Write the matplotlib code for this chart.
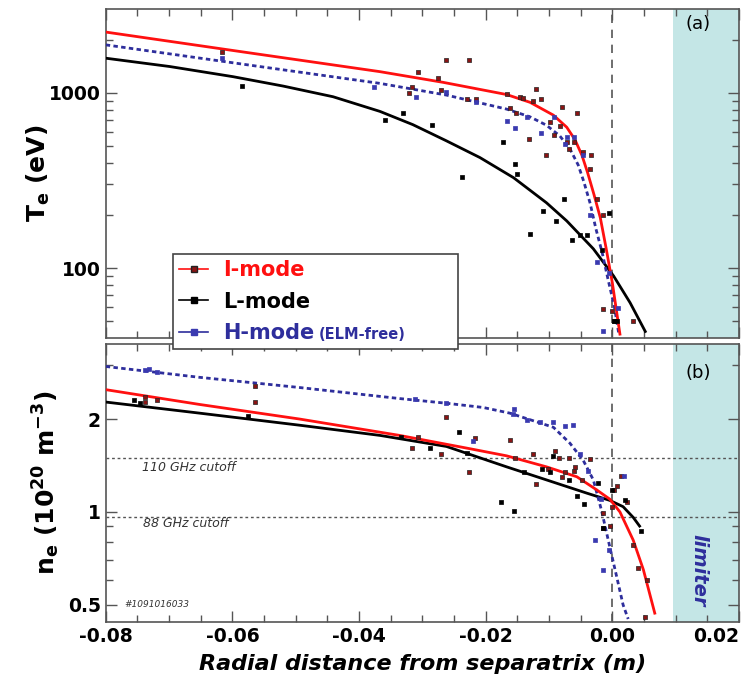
import matplotlib
matplotlib.use("Agg")
import matplotlib.pyplot as plt
from matplotlib.lines import Line2D
from matplotlib.ticker import FixedLocator, MultipleLocator, NullFormatter, FixedFormatter

plt.rcParams["font.family"] = "DejaVu Sans"
plt.rcParams["mathtext.fontset"] = "dejavusans"
plt.rcParams["mathtext.default"] = "bf"

# ---- Te fits (panel a) ----
i_te_fit_x = [-0.0800, -0.0584, -0.0367, -0.0267, -0.0167, -0.0130, -0.0093, -0.0072, -0.0059,
              -0.0048, -0.0039, -0.0029, -0.0019, -0.0010, 0.0000, 0.0012]
i_te_fit = [2218, 1710, 1319, 1146, 977, 882, 745, 636, 540,
            440, 350, 263, 194, 131, 82.5, 42.1]

h_te_fit_x = [-0.0800, -0.0584, -0.0367, -0.0262, -0.0167, -0.0130, -0.0104, -0.0083, -0.0067,
              -0.0054, -0.0045, -0.0035, -0.0026, -0.0016, -0.0007, 0.0003, 0.0010]
h_te_fit = [1875, 1456, 1131, 970, 807, 729, 653, 568, 479,
            388, 311, 234, 168, 122.5, 87, 60.9, 42.7]

l_te_fit_x = [-0.0800, -0.0699, -0.0599, -0.0520, -0.0441, -0.0367, -0.0315, -0.0262, -0.0209,
              -0.0156, -0.0104, -0.0072, -0.0030, 0.0002, 0.0028, 0.0052]
l_te_fit = [1574, 1411, 1235, 1092, 949, 783, 658, 532, 427,
            328, 236, 186, 129, 90.3, 63.6, 43.6]

# ---- Te measurements ----
i_te_x = [-0.0617, -0.0307, -0.0321, -0.0317, -0.0275, -0.0271, -0.0262, -0.0226, -0.0229,
          -0.0216, -0.0167, -0.0162, -0.0146, -0.0141, -0.0125, -0.0121, -0.0113, -0.0152,
          -0.0080, -0.0056, -0.0098, -0.0083, -0.0131, -0.0092, -0.0072, -0.0069, -0.0060,
          -0.0104, -0.0046, -0.0033, -0.0036, -0.0025, -0.0014, -0.0015, -0.0001, 0.0002, 0.0033]
i_te = [1717, 1319, 1000, 1074, 1209, 1036, 1539, 1539, 917,
        917, 979, 814, 949, 929, 896, 1046, 921, 762,
        832, 762, 682, 645, 548, 573, 524, 481, 524,
        440, 459, 444, 369, 249, 202, 58.8, 57, 50, 50]

l_te_x = [-0.0585, -0.0359, -0.0331, -0.0284, -0.0238, -0.0172, -0.0153, -0.0151, -0.0130,
          -0.0109, -0.0089, -0.0077, -0.0064, -0.0051, -0.0040, -0.0017, -0.0006, 0.0002, 0.0007]
l_te = [1092, 698, 762, 653, 330, 524, 391, 346, 157,
        211, 185, 249, 145, 155, 155, 127, 206, 50, 50]

h_te_x = [-0.0617, -0.0376, -0.0310, -0.0263, -0.0215, -0.0167, -0.0154, -0.0134, -0.0113,
          -0.0092, -0.0072, -0.0060, -0.0075, -0.0047, -0.0036, -0.0025, -0.0014, -0.0005, 0.0009]
h_te = [1574, 1074, 949, 1013, 888, 691, 631, 729, 590,
        723, 556, 560, 513, 440, 200, 108, 43.8, 94.5, 59.6]

# ---- ne fits (panel b) ----
h_ne_fit_x = [-0.0800, -0.0652, -0.0494, -0.0336, -0.0262, -0.0204, -0.0162, -0.0130, -0.0093,
              -0.0067, -0.0046, -0.0030, -0.0017, -0.0004, 0.0007, 0.0017, 0.0025]
h_ne_fit = [2.96, 2.73, 2.53, 2.33, 2.25, 2.18, 2.09, 1.99, 1.88,
            1.67, 1.47, 1.27, 1.01, 0.77, 0.615, 0.50, 0.45]

i_ne_fit_x = [-0.0800, -0.0652, -0.0494, -0.0336, -0.0230, -0.0167, -0.0104, -0.0056,
              -0.0025, -0.0004, 0.0012, 0.0033, 0.0049, 0.0067]
i_ne_fit = [2.49, 2.23, 2.00, 1.77, 1.61, 1.52, 1.40, 1.30, 1.18, 1.10, 1.00, 0.81, 0.65, 0.47]

l_ne_fit_x = [-0.0800, -0.0652, -0.0494, -0.0367, -0.0262, -0.0167, -0.0104, -0.0040,
              -0.0004, 0.0017, 0.0033, 0.0043]
l_ne_fit = [2.27, 2.09, 1.91, 1.77, 1.63, 1.40, 1.27, 1.15, 1.09, 1.04, 0.96, 0.90]

# ---- ne measurements ----
i_ne_x = [-0.0738, -0.0738, -0.0719, -0.0564, -0.0564, -0.0262, -0.0217, -0.0226, -0.0317,
          -0.0307, -0.0271, -0.0162, -0.0154, -0.0125, -0.0120, -0.0090, -0.0084, -0.0101,
          -0.0080, -0.0075, -0.0060, -0.0059, -0.0068, -0.0036, -0.0048, -0.0014, -0.0014,
          -0.0001, 0.0002, 0.0008, 0.0013, 0.0023, 0.0033, 0.0041, 0.0054, 0.0052, -0.0004]
i_ne = [2.36, 2.27, 2.31, 2.56, 2.27, 2.03, 1.74, 1.35, 1.61,
        1.75, 1.54, 1.71, 1.49, 1.54, 1.23, 1.57, 1.49, 1.38,
        1.30, 1.35, 1.36, 1.40, 1.49, 1.48, 1.27, 0.99, 0.89,
        1.04, 1.18, 1.21, 1.31, 1.08, 0.78, 0.66, 0.60, 0.456, 0.90]

l_ne_x = [-0.0756, -0.0746, -0.0575, -0.0334, -0.0288, -0.0242, -0.0229, -0.0176, -0.0155,
          -0.0139, -0.0111, -0.0094, -0.0098, -0.0068, -0.0056, -0.0045, -0.0022, 0.0000,
          0.0020, 0.0045, -0.0015]
l_ne = [2.30, 2.25, 2.04, 1.75, 1.61, 1.82, 1.55, 1.08, 1.005,
        1.35, 1.38, 1.52, 1.35, 1.27, 1.13, 1.06, 1.24, 1.18,
        1.09, 0.87, 0.89]

h_ne_x = [-0.0731, -0.0719, -0.0738, -0.0312, -0.0263, -0.0156, -0.0157, -0.0134, -0.0114,
          -0.0094, -0.0075, -0.0062, -0.0220, -0.0051, -0.0039, 0.0019, -0.0018, -0.0027,
          -0.0015, -0.0005]
h_ne = [2.90, 2.85, 2.89, 2.32, 2.25, 2.15, 2.08, 1.99, 1.95,
        1.95, 1.90, 1.92, 1.70, 1.54, 1.36, 1.31, 1.10, 0.81,
        0.65, 0.755]

cutoffs = [1.5, 0.96]
cutoff_labels = ["110 GHz cutoff", "88 GHz cutoff"]
limiter_start = 0.0095

RED = "#ff1010"
RED_PT = "#8a1414"
BLUE = "#2e2e9c"
BLUE_PT = "#3a3ab0"
SHADE = "#c4e6e6"

fig = plt.figure(figsize=(7.53, 6.80), dpi=100)
ax_t = fig.add_axes([0.1404, 0.5029, 0.841, 0.4838])
ax_n = fig.add_axes([0.1404, 0.0853, 0.841, 0.4088])

dots = (0, (1.6, 1.2))
pt = dict(marker="s", s=11, linewidths=0.5, zorder=4)

for ax in (ax_t, ax_n):
    ax.axvspan(limiter_start, 0.02, color=SHADE, zorder=0, lw=0)
    ax.axvline(0.0, color="#555555", lw=1.2, ls=(0, (5, 4)), zorder=1)

ax_t.scatter(i_te_x, i_te, color=RED_PT, edgecolors="#222222", **pt)
ax_t.scatter(l_te_x, l_te, color="black", edgecolors="black", **pt)
ax_t.scatter(h_te_x, h_te, color=BLUE_PT, edgecolors=BLUE_PT, **pt)
ax_t.plot(l_te_fit_x, l_te_fit, color="black", lw=2, zorder=3)
ax_t.plot(h_te_fit_x, h_te_fit, color=BLUE, lw=2, ls=dots, zorder=3)
ax_t.plot(i_te_fit_x, i_te_fit, color=RED, lw=2, zorder=3)

for level in cutoffs:
    ax_n.axhline(level, color="#555555", lw=1, ls=(0, (2, 2)), zorder=1)
ax_n.scatter(i_ne_x, i_ne, color=RED_PT, edgecolors="#222222", **pt)
ax_n.scatter(l_ne_x, l_ne, color="black", edgecolors="black", **pt)
ax_n.scatter(h_ne_x, h_ne, color=BLUE_PT, edgecolors=BLUE_PT, **pt)
ax_n.plot(l_ne_fit_x, l_ne_fit, color="black", lw=2, zorder=3)
ax_n.plot(h_ne_fit_x, h_ne_fit, color=BLUE, lw=2, ls=dots, zorder=3)
ax_n.plot(i_ne_fit_x, i_ne_fit, color=RED, lw=2, zorder=3)

ax_t.set_yscale("log")
ax_t.set_ylim(40, 3000)
ax_n.set_yscale("log")
ax_n.set_ylim(0.44, 3.5)

for ax in (ax_t, ax_n):
    ax.set_xlim(-0.08, 0.02)
    ax.xaxis.set_major_locator(MultipleLocator(0.02))
    ax.xaxis.set_minor_locator(MultipleLocator(0.005))
    ax.tick_params(which="both", direction="in", top=True, right=True,
                   color="#555555", width=1)
    ax.tick_params(which="major", length=8, labelsize=13.5)
    ax.tick_params(which="minor", length=5)
    for s in ax.spines.values():
        s.set_color("#555555")
        s.set_linewidth(1.2)

ax_t.yaxis.set_major_locator(FixedLocator([100, 1000]))
ax_t.yaxis.set_major_formatter(FixedFormatter(["100", "1000"]))
ax_t.yaxis.set_minor_locator(FixedLocator([50, 60, 70, 80, 90, 200, 300, 400, 500, 600,
                                           700, 800, 900, 2000]))
ax_t.yaxis.set_minor_formatter(NullFormatter())
ax_t.tick_params(axis="x", labelbottom=False)

ax_n.yaxis.set_major_locator(FixedLocator([0.5, 1, 2]))
ax_n.yaxis.set_major_formatter(FixedFormatter(["0.5", "1", "2"]))
ax_n.yaxis.set_minor_locator(FixedLocator([0.6, 0.7, 0.8, 0.9, 3]))
ax_n.yaxis.set_minor_formatter(NullFormatter())
ax_n.set_xticks([-0.08, -0.06, -0.04, -0.02, 0.0, 0.02],
                ["-0.08", "-0.06", "-0.04", "-0.02", "0.00", "0.02"])
for lab in ax_n.get_xticklabels() + ax_t.get_yticklabels() + ax_n.get_yticklabels():
    lab.set_fontweight("bold")
ax_n.get_xticklabels()[-1].set_horizontalalignment("right")

ax_t.set_ylabel(r"T$_{e}$ (eV)", fontsize=18, fontweight="bold", labelpad=-2)
ax_n.set_ylabel(r"n$_{e}$ (10$^{20}$ m$^{-3}$)", fontsize=18, fontweight="bold", labelpad=4)
ax_n.set_xlabel("Radial distance from separatrix (m)", fontsize=16,
                fontweight="bold", fontstyle="italic", labelpad=6)

ax_t.text(0.0135, 2450, "(a)", fontsize=13, ha="center", va="center")
ax_n.text(0.0135, 2.82, "(b)", fontsize=13, ha="center", va="center")
ax_n.text(0.0137, 0.647, "limiter", rotation=-90, fontsize=14, fontweight="bold",
          fontstyle="italic", color=BLUE, ha="center", va="center")
ax_n.text(-0.0743, 1.39, cutoff_labels[0], fontsize=9, fontstyle="italic",
          color="#333333", va="center")
ax_n.text(-0.0741, 0.917, cutoff_labels[1], fontsize=9, fontstyle="italic",
          color="#333333", va="center")
ax_n.text(-0.077, 0.50, "#1091016033", fontsize=6.5, fontstyle="italic",
          color="#333333", va="center")

handles = [
    Line2D([], [], color=RED, lw=1.2, marker="s", ms=4.5, mfc=RED_PT, mec="#222222"),
    Line2D([], [], color="black", lw=1.2, marker="s", ms=4.5, mfc="black", mec="black"),
    Line2D([], [], color=BLUE, lw=1.2, marker="s", ms=4.5, mfc=BLUE_PT, mec=BLUE_PT),
]
leg = fig.legend(handles, ["I-mode", "L-mode", "H-mode"],
                 loc="upper left", bbox_to_anchor=(0.2297, 0.4868, 0.3785, 0.1397),
                 mode="expand", borderaxespad=0, borderpad=0.3, labelspacing=0.55,
                 handlelength=1.4, handletextpad=0.7, fancybox=False, framealpha=1,
                 edgecolor="#444444", prop={"size": 15, "weight": "bold"})
leg.get_frame().set_linewidth(1.2)
leg.set_zorder(10)
for txt, col in zip(leg.get_texts(), [RED, "black", BLUE]):
    txt.set_color(col)

fig.canvas.draw()
bb = leg.get_texts()[2].get_window_extent()
x0, y0 = fig.transFigure.inverted().transform((bb.x1 + 5, bb.y0 + 4))
fig.text(x0, y0, "(ELM-free)", fontsize=10.5, fontweight="bold", color=BLUE,
         ha="left", va="baseline", zorder=11)

fig.savefig("out.png", dpi=100)
